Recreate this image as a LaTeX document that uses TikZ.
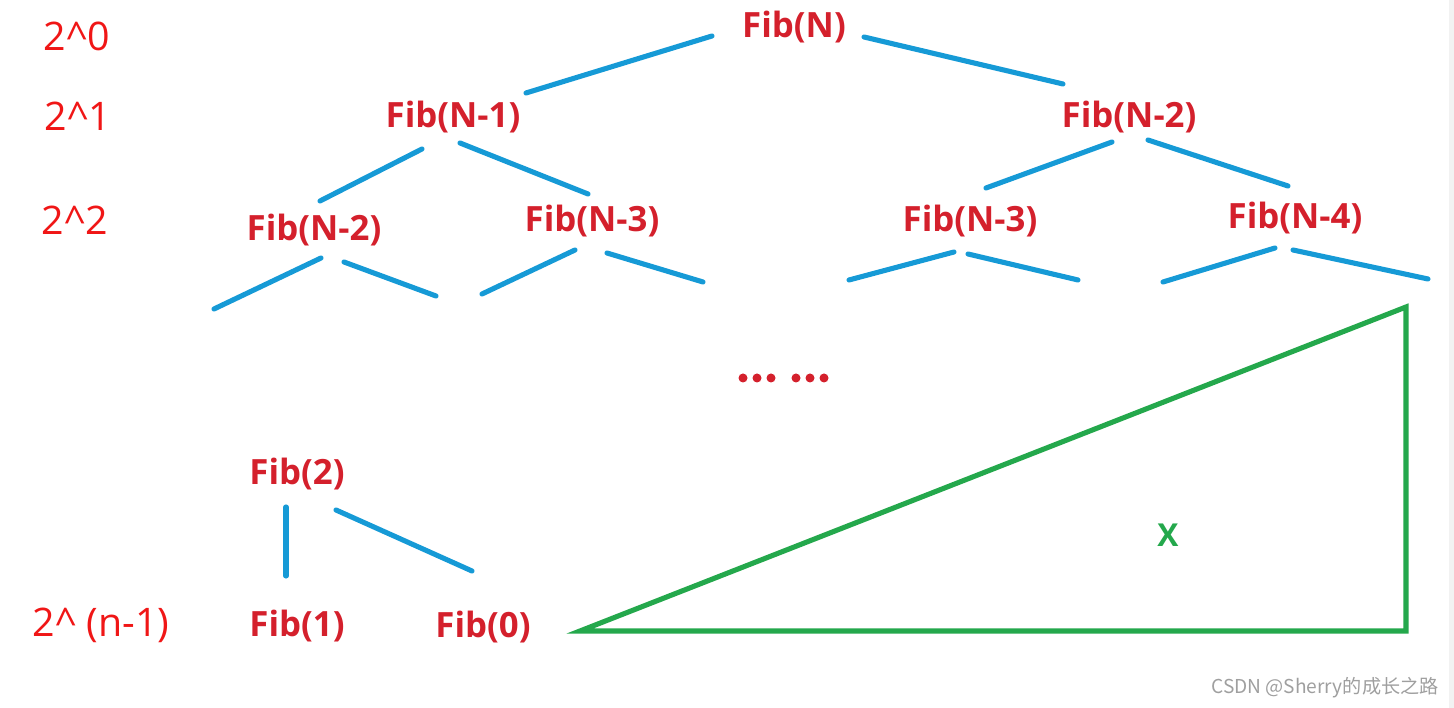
\documentclass[tikz,border=0pt]{standalone}
\usepackage{fontspec}
\setmainfont{Open Sans}
\newfontfamily\cjk{Noto Sans CJK SC}
\definecolor{fibred}{RGB}{212,32,44}
\definecolor{lvlred}{RGB}{240,22,22}
\definecolor{edgeblue}{RGB}{22,154,214}
\definecolor{trigreen}{RGB}{36,168,76}
\begin{document}
\begin{tikzpicture}[
  fib/.style={text=fibred,font=\fontsize{9.9}{12}\selectfont\bfseries,inner sep=0pt},
  lvl/.style={text=lvlred,font=\fontsize{11.2}{13}\selectfont,inner sep=0pt},
  edge/.style={edgeblue,line width=1.45pt,line cap=round}]
\useasboundingbox (0,0) rectangle (14.54,-7.08);
\fill [gray!10] (14.49,0) rectangle (14.54,-7.08);
% level labels
\node [lvl] (l0) at (0.77,-0.36) {2\^{}0};
\node [lvl] (l1) at (0.78,-1.16) {2\^{}1};
\node [lvl] (l2) at (0.75,-2.20) {2\^{}2};
\node [lvl] (ln) at (1.01,-6.25) {2\^{} (n-1)};
% tree
\node [fib] (fN) at (7.94,-0.27) {Fib(N)};
\node [fib] (fN1) at (4.53,-1.17) {Fib(N-1)};
\node [fib] (fN2) at (11.29,-1.17) {Fib(N-2)};
\node [fib] (fN1a) at (3.14,-2.30) {Fib(N-2)};
\node [fib] (fN1b) at (5.92,-2.21) {Fib(N-3)};
\node [fib] (fN2a) at (9.70,-2.21) {Fib(N-3)};
\node [fib] (fN2b) at (12.95,-2.18) {Fib(N-4)};
\node [fib] (f2) at (2.97,-4.74) {Fib(2)};
\node [fib] (f1) at (2.97,-6.26) {Fib(1)};
\node [fib] (f0) at (4.83,-6.27) {Fib(0)};
% edge ends
\coordinate (e1) at (7.12,-0.36); \coordinate (e2) at (5.26,-0.93);
\coordinate (e3) at (8.64,-0.37); \coordinate (e4) at (10.63,-0.84);
\coordinate (e5) at (4.22,-1.49); \coordinate (e6) at (3.20,-2.01);
\coordinate (e7) at (4.60,-1.43); \coordinate (e8) at (5.88,-1.94);
\coordinate (e9) at (11.12,-1.42); \coordinate (e10) at (9.86,-1.88);
\coordinate (e11) at (11.48,-1.40); \coordinate (e12) at (12.88,-1.86);
\coordinate (e13) at (3.21,-2.58); \coordinate (e14) at (2.14,-3.09);
\coordinate (e15) at (3.44,-2.62); \coordinate (e16) at (4.36,-2.96);
\coordinate (e17) at (5.75,-2.50); \coordinate (e18) at (4.82,-2.94);
\coordinate (e19) at (6.07,-2.53); \coordinate (e20) at (7.03,-2.82);
\coordinate (e21) at (9.54,-2.52); \coordinate (e22) at (8.49,-2.80);
\coordinate (e23) at (9.68,-2.54); \coordinate (e24) at (10.78,-2.80);
\coordinate (e25) at (12.75,-2.48); \coordinate (e26) at (11.63,-2.82);
\coordinate (e27) at (12.93,-2.50); \coordinate (e28) at (14.28,-2.79);
\coordinate (e29) at (2.86,-5.07); \coordinate (e30) at (2.86,-5.76);
\coordinate (e31) at (3.36,-5.10); \coordinate (e32) at (4.72,-5.71);
\foreach \a/\b in {e1/e2,e3/e4,e5/e6,e7/e8,e9/e10,e11/e12,e13/e14,e15/e16,
  e17/e18,e19/e20,e21/e22,e23/e24,e25/e26,e27/e28,e29/e30,e31/e32}
  \draw [edge] (\a) -- (\b);
% dots
\foreach \x in {7.43,7.57,7.71,7.96,8.10,8.24}
  \fill [fibred] (\x,-3.78) circle (0.045);
% triangle
\coordinate (tA) at (5.80,-6.31);
\coordinate (tB) at (14.06,-6.31);
\coordinate (tC) at (14.06,-3.07);
\draw [trigreen,line width=1.45pt] (tA) -- (tB) -- (tC) -- cycle;
\node [text=trigreen,font=\fontsize{9}{11}\selectfont\bfseries,inner sep=0pt] (x) at (11.68,-5.35) {X};
% watermark
\node [text=gray!75,font=\cjk\fontsize{5.45}{7}\selectfont,inner sep=0pt] (wm) at (13.25,-6.88) {CSDN @Sherry的成长之路};
\end{tikzpicture}
\end{document}
